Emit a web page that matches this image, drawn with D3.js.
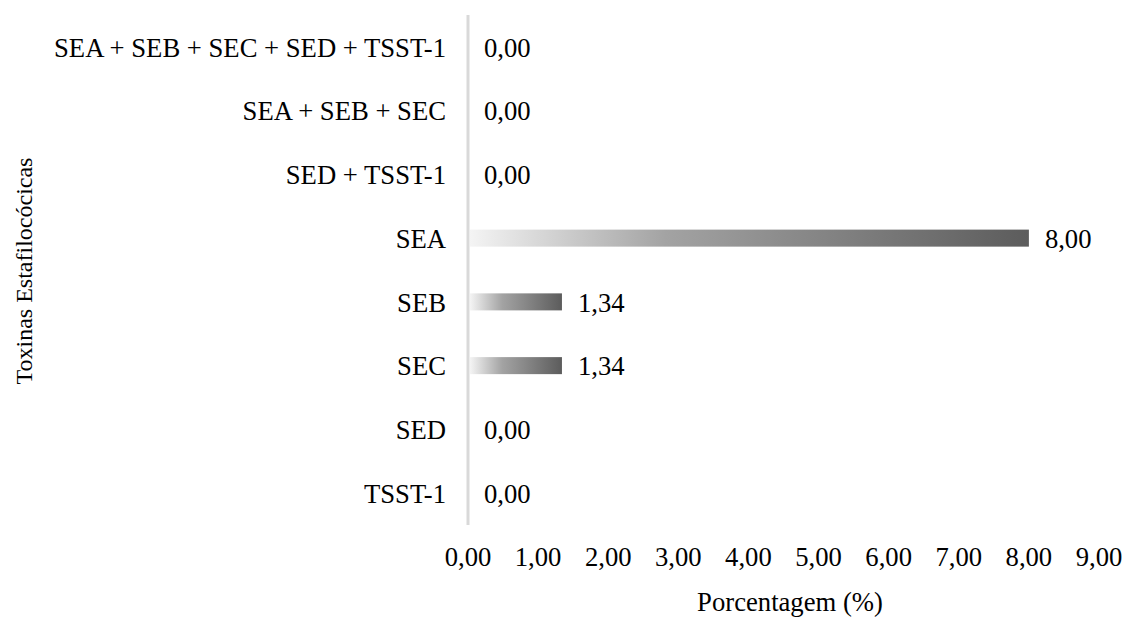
<!DOCTYPE html>
<html><head><meta charset="utf-8">
<script src="https://cdn.jsdelivr.net/npm/d3@7"></script>
<style>body{margin:0;background:#fff}svg{display:block}text{font-family:"Liberation Serif","Times New Roman",serif;fill:#000}</style>
</head><body><svg id="c" width="1125" height="618"></svg>
<script>
const categories = ["SEA + SEB + SEC + SED + TSST-1","SEA + SEB + SEC","SED + TSST-1","SEA","SEB","SEC","SED","TSST-1"];
const values = [0,0,0,8,1.34,1.34,0,0];
const xTicks = [0,1,2,3,4,5,6,7,8,9];
const fmt = v => v.toFixed(2).replace(".", ",");
const FS = 26.67;

const svg = d3.select("#c");
const x = d3.scaleLinear().domain([0,9]).range([468,1099]);
const y = d3.scaleBand().domain(categories).range([15,525]).paddingInner(0.733).paddingOuter(0.3665);

const defs = svg.append("defs");
const g = defs.append("linearGradient").attr("id","grad").attr("x1","0").attr("x2","1").attr("y1","0").attr("y2","0");
g.append("stop").attr("offset","0").attr("stop-color","#f4f4f4");
g.append("stop").attr("offset","0.35").attr("stop-color","#a3a3a3");
g.append("stop").attr("offset","1").attr("stop-color","#5c5c5c");

const rows = values.map((v,i)=>({v,c:categories[i]}));

svg.append("g").selectAll("rect").data(rows).join("rect")
  .attr("x", x(0)+2).attr("y", d=>y(d.c)).attr("height", y.bandwidth())
  .attr("width", d=>Math.max(0, x(d.v)-x(0)-2)).attr("fill","url(#grad)");

svg.append("line").attr("x1",x(0)).attr("x2",x(0)).attr("y1",15).attr("y2",525)
  .attr("stroke","#d9d9d9").attr("stroke-width",3);

svg.append("g").selectAll("text").data(categories).join("text")
  .attr("x",446).attr("y",d=>y(d)+y.bandwidth()/2).attr("dy","0.37em")
  .attr("text-anchor","end").attr("font-size",FS).text(d=>d);

svg.append("g").selectAll("text").data(rows).join("text")
  .attr("x",d=>x(d.v)+16).attr("y",d=>y(d.c)+y.bandwidth()/2).attr("dy","0.37em")
  .attr("font-size",FS).text(d=>fmt(d.v));

svg.append("g").selectAll("text").data(xTicks).join("text")
  .attr("x",d=>x(d)).attr("y",566).attr("text-anchor","middle")
  .attr("font-size",FS).text(d=>fmt(d));

svg.append("text").attr("x",790).attr("y",611).attr("text-anchor","middle")
  .attr("font-size",FS).text("Porcentagem (%)");
svg.append("text").attr("transform","translate(32,271) rotate(-90)")
  .attr("text-anchor","middle").attr("font-size",24).text("Toxinas Estafilocócicas");
</script></body></html>
